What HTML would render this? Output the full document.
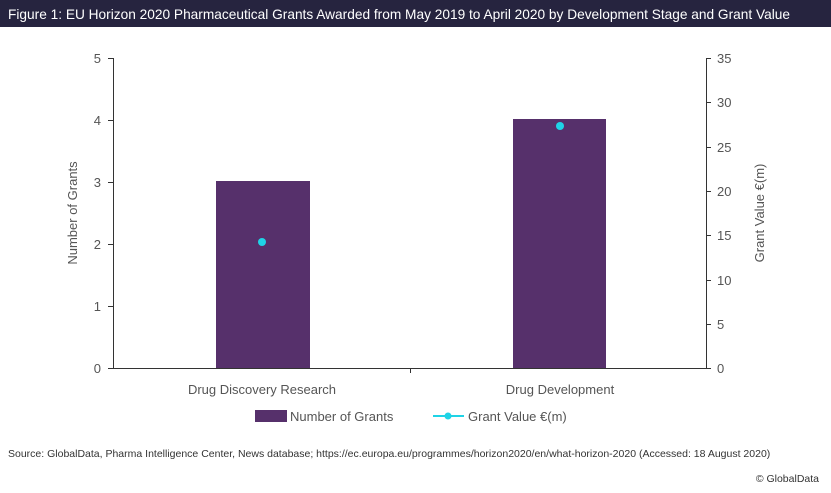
<!DOCTYPE html>
<html><head><meta charset="utf-8"><style>
body{margin:0;background:#fff;}
svg{display:block;font-family:"Liberation Sans",sans-serif;}
</style></head><body>
<svg width="831" height="493" viewBox="0 0 831 493">
<rect x="0" y="0" width="831" height="27" fill="#26243f"/>
<text x="8" y="19" font-size="14" fill="#fff" textLength="782" lengthAdjust="spacingAndGlyphs">Figure 1: EU Horizon 2020 Pharmaceutical Grants Awarded from May 2019 to April 2020 by Development Stage and Grant Value</text>
<g stroke="#333" stroke-width="1" fill="none">
<path d="M113.5 58 V368.5 H706.5 V58"/>
<path d="M108 58.5H113M108 120.5H113M108 182.5H113M108 244.5H113M108 306.5H113M108 368.5H113"/>
<path d="M706 58.5H711M706 102.5H711M706 147.5H711M706 191.5H711M706 235.5H711M706 280.5H711M706 324.5H711M706 368.5H711"/>
<path d="M410.5 368V373"/>
</g>
<g font-size="13" fill="#555" text-anchor="end">
<text x="101" y="63">5</text><text x="101" y="125">4</text><text x="101" y="187">3</text><text x="101" y="249">2</text><text x="101" y="311">1</text><text x="101" y="373">0</text>
</g>
<g font-size="13" fill="#555" text-anchor="start">
<text x="717" y="63">35</text><text x="717" y="107">30</text><text x="717" y="152">25</text><text x="717" y="196">20</text><text x="717" y="240">15</text><text x="717" y="285">10</text><text x="717" y="329">5</text><text x="717" y="373">0</text>
</g>
<text transform="translate(77,213) rotate(-90)" font-size="13" fill="#555" text-anchor="middle">Number of Grants</text>
<text transform="translate(764,213) rotate(-90)" font-size="13" fill="#555" text-anchor="middle">Grant Value €(m)</text>
<rect x="216" y="181" width="94" height="187" fill="#56306b"/>
<rect x="513" y="119" width="93" height="249" fill="#56306b"/>
<circle cx="262" cy="242" r="4" fill="#1fd3e6"/>
<circle cx="560" cy="126" r="4" fill="#1fd3e6"/>
<g font-size="13" fill="#555" text-anchor="middle">
<text x="262" y="394">Drug Discovery Research</text>
<text x="560" y="394">Drug Development</text>
</g>
<rect x="255" y="410" width="32" height="12" fill="#56306b"/>
<text x="290" y="421" font-size="13" fill="#555">Number of Grants</text>
<line x1="433" y1="416" x2="464" y2="416" stroke="#1fd3e6" stroke-width="2"/>
<circle cx="448" cy="416" r="3.5" fill="#1fd3e6"/>
<text x="468" y="421" font-size="13" fill="#555">Grant Value €(m)</text>
<text x="8" y="457" font-size="10.5" fill="#333">Source: GlobalData, Pharma Intelligence Center, News database; https://ec.europa.eu/programmes/horizon2020/en/what-horizon-2020 (Accessed: 18 August 2020)</text>
<text x="819" y="482" font-size="10.5" fill="#333" text-anchor="end">© GlobalData</text>
</svg>
</body></html>
